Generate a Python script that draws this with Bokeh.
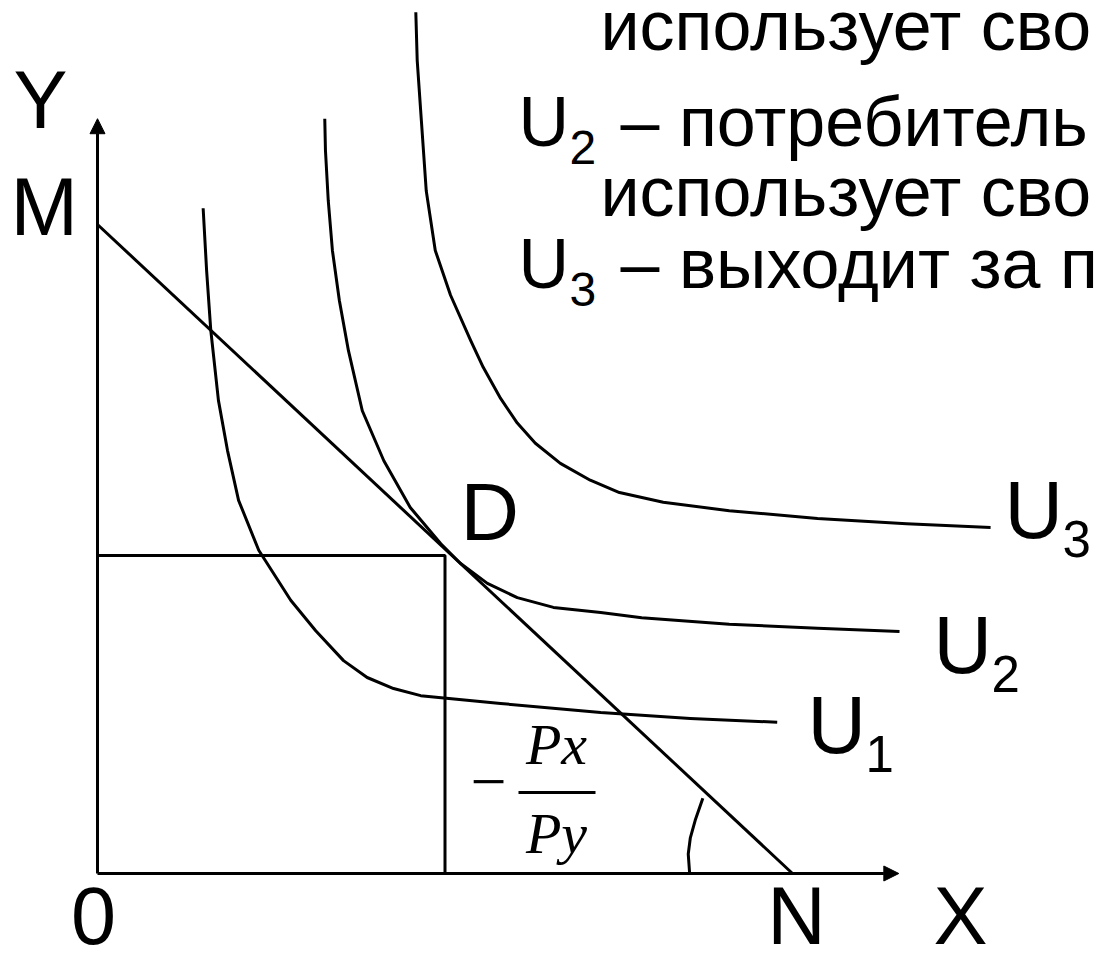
from bokeh.plotting import figure
from bokeh.models import Range1d, Arrow, NormalHead
from bokeh.core.properties import value
from bokeh.embed import file_html
from bokeh.resources import INLINE

# ---- data (diagram units: N = 10 on X, M = 10 on Y) ----
budget_x = [0.0, 10.0]
budget_y = [10.0, 0.0]

u1_x = [1.52, 1.57, 1.63, 1.74, 1.87, 2.03, 2.32, 2.78, 3.14, 3.54, 3.88, 4.26, 4.65, 5.02, 5.80, 7.24, 8.53, 9.78]
u1_y = [10.25, 9.29, 8.37, 7.29, 6.52, 5.75, 4.98, 4.21, 3.74, 3.28, 3.02, 2.85, 2.74, 2.70, 2.62, 2.48, 2.39, 2.33]

u2_x = [3.27, 3.28, 3.32, 3.38, 3.48, 3.61, 3.81, 4.12, 4.50, 4.94, 5.22, 5.61, 6.04, 6.56, 7.24, 7.83, 9.09, 10.36, 11.54]
u2_y = [11.63, 11.14, 10.37, 9.60, 8.83, 8.06, 7.13, 6.36, 5.64, 5.08, 4.78, 4.47, 4.25, 4.10, 4.02, 3.94, 3.84, 3.78, 3.73]

u3_x = [4.58, 4.60, 4.66, 4.73, 4.86, 5.08, 5.37, 5.55, 5.80, 6.04, 6.30, 6.66, 7.09, 7.51, 8.14, 9.09, 10.36, 11.64, 12.85]
u3_y = [13.27, 12.53, 11.60, 10.52, 9.60, 8.91, 8.21, 7.80, 7.32, 6.94, 6.63, 6.32, 6.06, 5.87, 5.72, 5.59, 5.47, 5.39, 5.33]

angle_x = [8.71, 8.60, 8.53, 8.50, 8.52]
angle_y = [1.16, 0.82, 0.55, 0.30, 0.00]

d_point = (5.0, 4.90)          # optimum bundle D
x_axis_end = 11.53
y_axis_end = 11.63

curve_labels = ["U", "U", "U"]
curve_subs = ["1", "2", "3"]

text_lines_small = ["использует свой", "использует свой"]
text_lines_rest = ["– потребитель п", "– выходит за пр"]
text_big_subs = ["2", "3"]

# ---- page geometry ----
W, H = 1096, 964
PX_X, PX_Y = 69.5, 64.9          # pixels per unit
OX, OY = 97, 873                  # origin position in the canvas (pixels)

p = figure(width=W, height=H,
           x_range=Range1d(-OX / PX_X, (W - OX) / PX_X),
           y_range=Range1d(-(H - OY) / PX_Y, OY / PX_Y),
           output_backend="svg", toolbar_location=None, min_border=0,
           x_axis_type=None, y_axis_type=None)
p.grid.visible = False
p.outline_line_color = None
p.background_fill_color = "white"
p.border_fill_color = "white"


def X(px):
    return (px - OX) / PX_X


def Y(py, fs=0, k=0.38):
    # baseline at pixel row py; compensate renderer baseline offset
    return (OY - py + k * fs) / PX_Y


LW = 3
p.add_layout(Arrow(x_start=0, y_start=0, x_end=x_axis_end, y_end=0, line_width=LW,
                   end=NormalHead(size=15, line_color="black", fill_color="black", line_width=1)))
p.add_layout(Arrow(x_start=0, y_start=0, x_end=0, y_end=y_axis_end, line_width=LW,
                   end=NormalHead(size=15, line_color="black", fill_color="black", line_width=1)))

p.line(budget_x, budget_y, line_color="black", line_width=LW)
for cx, cy in ((u1_x, u1_y), (u2_x, u2_y), (u3_x, u3_y)):
    p.line(cx, cy, line_color="black", line_width=LW, line_join="round")
p.line([0, d_point[0], d_point[0]], [d_point[1], d_point[1], 0], line_color="black", line_width=LW)
p.line(angle_x, angle_y, line_color="black", line_width=LW, line_join="round")

SANS = value("Liberation Sans")
SERIF = value("Liberation Serif")
BIG = 81


def txt(xs, ys, texts, fs, font=SANS, align="left", style="normal"):
    p.text(x=xs, y=ys, text=texts, text_font=font, text_font_size=f"{fs}px",
           text_font_style=style, text_baseline="alphabetic", text_align=align,
           text_color="black")


# axis / point labels
txt([X(13)], [Y(130, BIG)], ["Y"], BIG)
txt([X(10)], [Y(237, BIG)], ["M"], BIG)
txt([X(93)], [Y(946, BIG)], ["0"], BIG, align="center")
txt([X(796)], [Y(946, BIG)], ["N"], BIG, align="center")
txt([X(960)], [Y(946, BIG)], ["X"], BIG, align="center")
txt([X(460)], [Y(542, BIG)], ["D"], BIG)

# curve labels
lab_px = [(807, 755), (933, 675), (1004, 540)]
txt([X(a) for a, b in lab_px], [Y(b, BIG) for a, b in lab_px], curve_labels, BIG)
txt([X(a + 58) for a, b in lab_px], [Y(b + 18, 51) for a, b in lab_px], curve_subs, 51)

# slope  -Px/Py
txt([X(488)], [Y(808, 64, 0.42)], ["−"], 64, font=SERIF, align="center")
p.line([X(518), X(595)], [Y(792), Y(792)], line_color="black", line_width=LW)
txt([X(556), X(556)], [Y(768, 58, 0.42), Y(857, 58, 0.42)], ["Px", "Py"], 58,
    font=SERIF, align="center", style="italic")

# text block (top right)
TF = 70
txt([X(600), X(600)], [Y(52, TF), Y(218, TF)], text_lines_small, TF)
big_base = [148, 290]
txt([X(518)] * 2, [Y(b, TF) for b in big_base], ["U", "U"], TF)
txt([X(569)] * 2, [Y(b + 17, 48) for b in big_base], text_big_subs, 48)
txt([X(620)] * 2, [Y(b, TF) for b in big_base], text_lines_rest, TF)

open("out.html", "w").write(file_html(p, INLINE))
